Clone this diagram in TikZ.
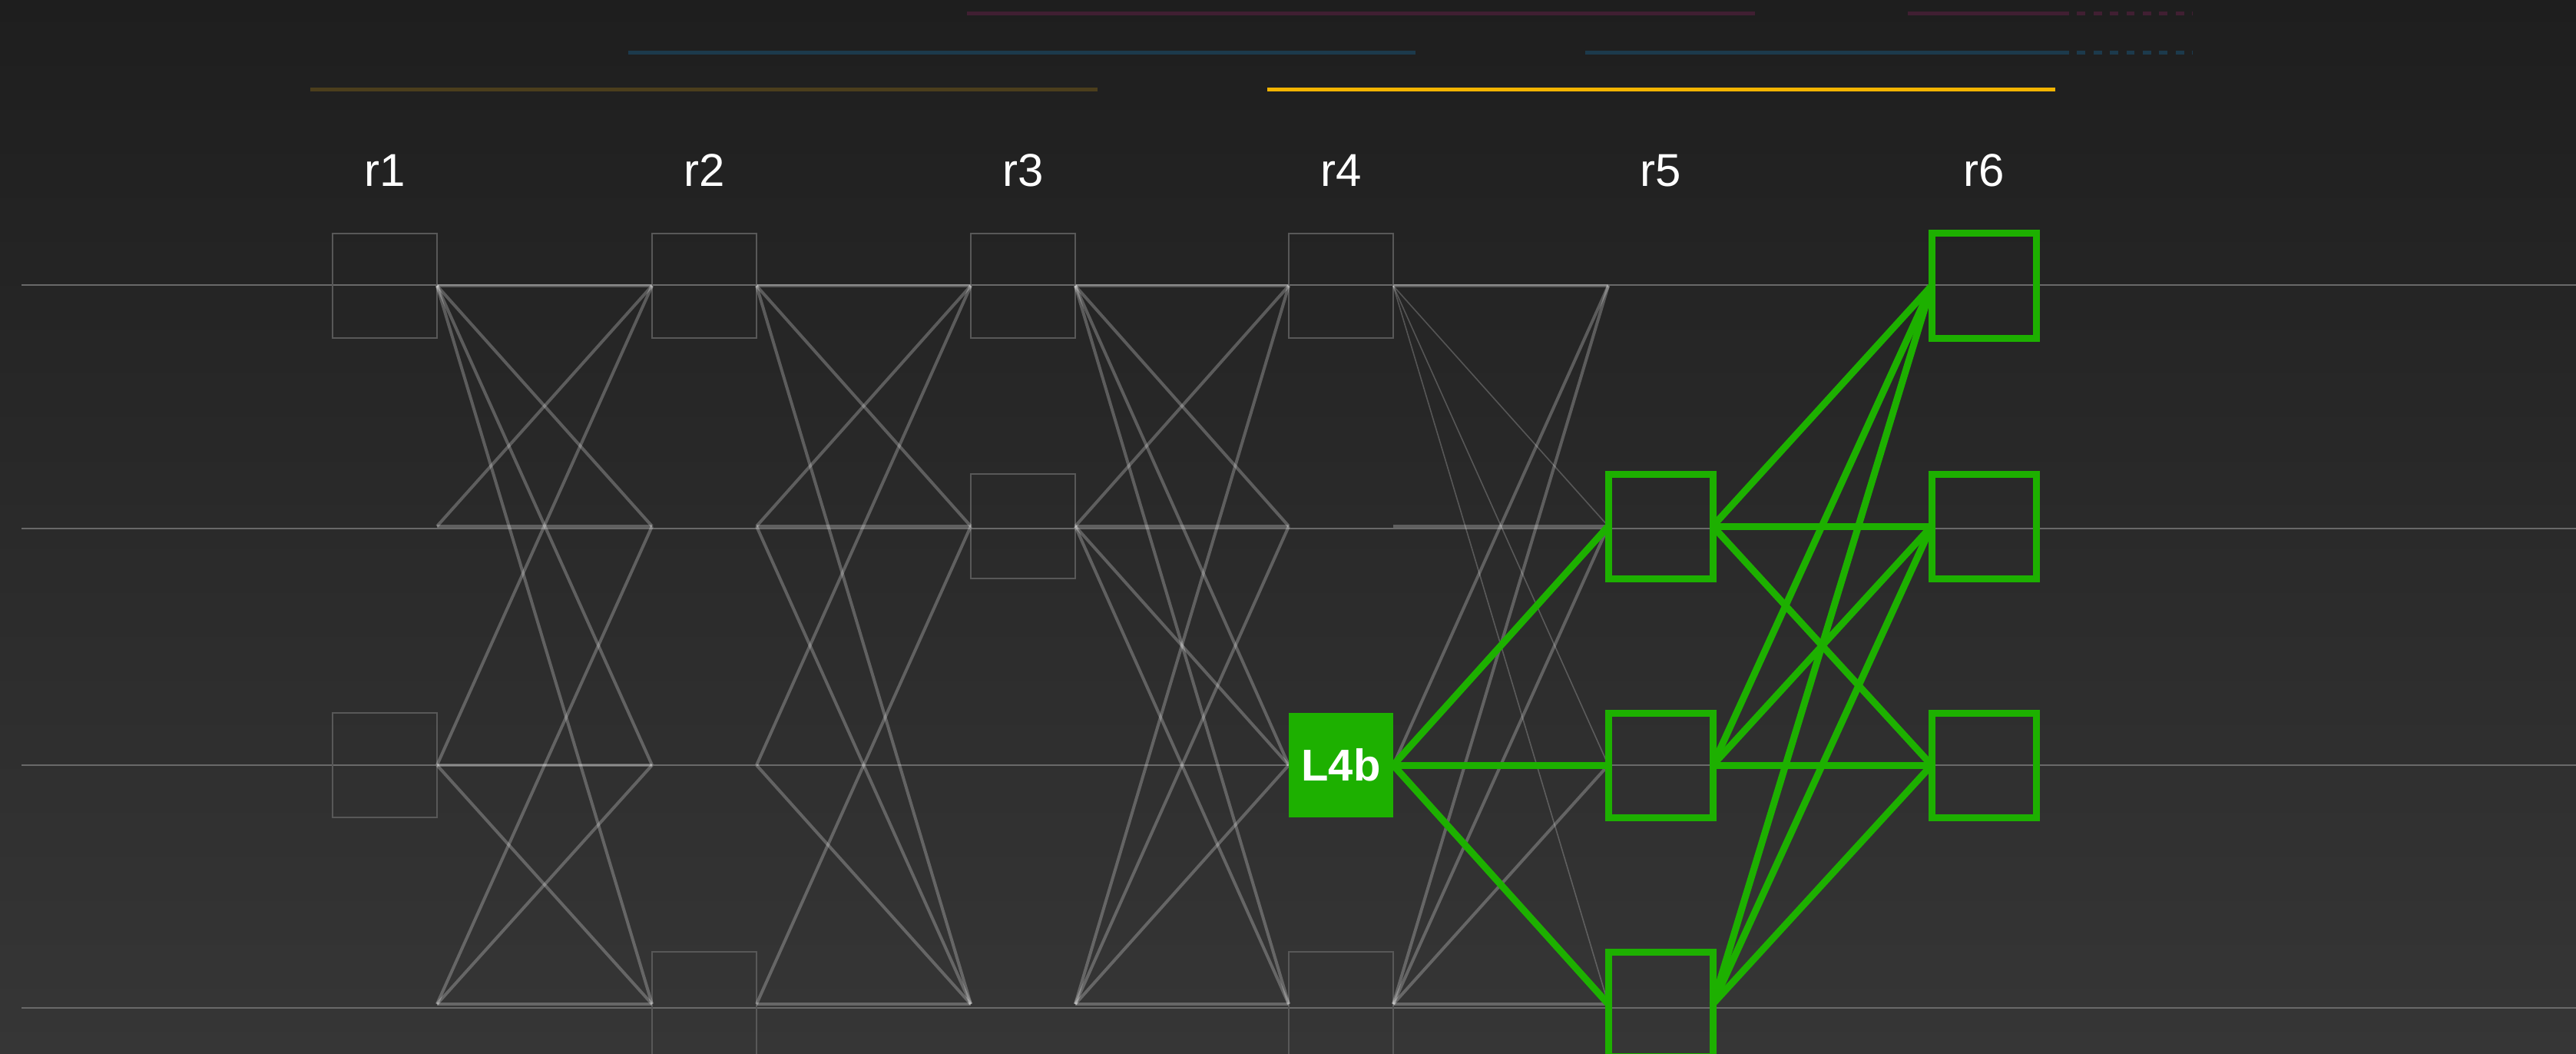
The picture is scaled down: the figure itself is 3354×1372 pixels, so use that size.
\documentclass[tikz,border=0pt]{standalone}
\usepackage{fontspec}
\setmainfont{Liberation Sans}
\usepackage{xcolor}
\usepackage{tikz}

\definecolor{bgtop}{RGB}{30,30,30}
\definecolor{bgbot}{RGB}{54,54,54}
\definecolor{boxgrey}{RGB}{88,88,88}
\definecolor{rowgrey}{RGB}{105,105,105}
\definecolor{hotgreen}{RGB}{29,176,0}
\definecolor{dimred}{RGB}{64,31,50}
\definecolor{dimblue}{RGB}{28,58,76}
\definecolor{dimgold}{RGB}{76,62,28}
\definecolor{gold}{RGB}{242,180,0}

\begin{document}
\begin{tikzpicture}[x=1pt, y=-1pt,
  slot/.style={minimum size=136pt, inner sep=0pt, outer sep=0pt},
  cell/.style={slot, draw=boxgrey, line width=2.5pt},
  hot/.style={slot, draw=hotgreen, line width=9pt},
  hotfill/.style={slot, fill=hotgreen, text=white, font=\fontsize{58}{60}\selectfont\bfseries},
  lab/.style={anchor=base, text=white, font=\fontsize{60}{66}\selectfont},
  link/.style={white, opacity=0.25, line width=4pt},
  faint/.style={white, opacity=0.22, line width=1.6pt},
  hotlink/.style={hotgreen, line width=9pt},
  rowline/.style={rowgrey, line width=2pt},
  bar/.style={line width=5pt}]
  \useasboundingbox (0,0) rectangle (3354,1372);
  \clip (0,0) rectangle (3354,1372);
  \shade[top color=bgtop, bottom color=bgbot] (0,0) rectangle (3354,1372);

  % timeline bars
  \draw[bar, dimred] (1259,18) -- (2285,18) (2484,18) -- (2683,18);
  \draw[bar, dimred, dash pattern=on 10.7pt off 10.7pt] (2683,18) -- (2855,18);
  \draw[bar, dimblue] (818,68.5) -- (1843,68.5) (2064,68.5) -- (2683,68.5);
  \draw[bar, dimblue, dash pattern=on 10.7pt off 10.7pt] (2683,68.5) -- (2855,68.5);
  \draw[bar, dimgold] (404,117) -- (1429,117);
  \draw[bar, gold] (1650,117) -- (2676,117);

  \foreach \y in {371,688,996,1312}
    \draw[rowline] (28,\y) -- (3354,\y);

  \foreach \c/\x in {1/501,2/917,3/1332,4/1746,5/2162,6/2583} {
    \node[lab] (lab\c) at (\x,243) {r\c};
    \foreach \r/\y in {1/372,2/685,3/996,4/1307}
      \node[slot] (N\c\r) at (\x,\y) {};
  }

  \foreach \p in {11,13,21,24,31,32,41,44}
    \node[cell] (B\p) at (N\p) {};

  \foreach \a/\b in {11/21,11/22,11/23,11/24,12/21,12/22,13/21,13/23,13/24,14/22,14/23,14/24,
                     21/31,21/32,21/34,22/31,22/32,22/34,23/31,23/34,24/32,24/34,
                     31/41,31/42,31/43,31/44,32/41,32/42,32/43,32/44,34/41,34/42,34/43,34/44,
                     41/51,42/52,43/51,44/51,44/52,44/53,44/54}
    \draw[link] (N\a.east) -- (N\b.west);
  \foreach \b in {52,53,54}
    \draw[faint] (N41.east) -- (N\b.west);

  \foreach \a/\b in {43/52,43/53,43/54,52/61,52/62,52/63,53/61,53/62,53/63,54/61,54/62,54/63}
    \draw[hotlink] (N\a.east) -- (N\b.west);

  \foreach \p in {52,53,54,61,62,63}
    \node[hot] (G\p) at (N\p) {};
  \node[hotfill] (L4b) at (N43) {L4b};
\end{tikzpicture}
\end{document}
